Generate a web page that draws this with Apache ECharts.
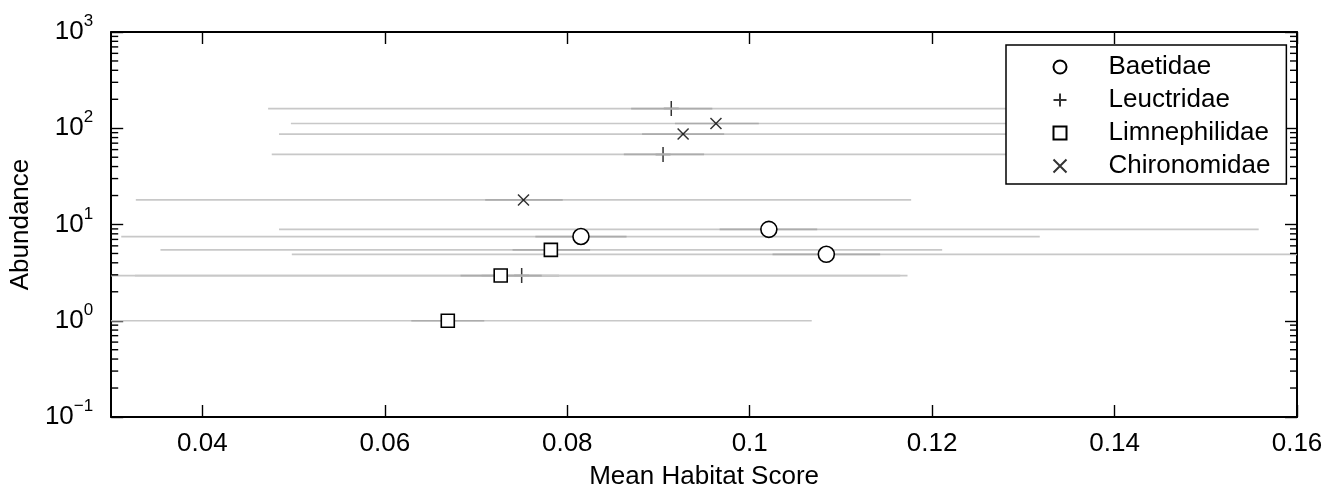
<!DOCTYPE html>
<html>
<head>
<meta charset="utf-8">
<script src="https://cdn.jsdelivr.net/npm/echarts@6/dist/echarts.min.js"></script>
<style>
html,body{margin:0;padding:0;background:#fff;}
#chart{width:1327px;height:495px;}
</style>
</head>
<body>
<div id="chart"></div>
<script>
// ---- data ----
const xTicks = [0.04, 0.06, 0.08, 0.10, 0.12, 0.14, 0.16];
const yMinorTicks = [0.2,0.3,0.4,0.5,0.6,0.7,0.8,0.9, 2,3,4,5,6,7,8,9, 20,30,40,50,60,70,80,90, 200,300,400,500,600,700,800,900];

const species = ['Baetidae', 'Leuctridae', 'Limnephilidae', 'Chironomidae'];

// Baetidae
const baetX = [0.1021, 0.0815, 0.1084];
const baetY = [8.9, 7.5, 4.9];
const baetLo = [0.0484, 0.0311, 0.0498];
const baetHi = [0.1558, 0.1318, 0.175];
const baetInLo = [0.0967, 0.0765, 0.1025];
const baetInHi = [0.1074, 0.0865, 0.1143];

// Leuctridae
const leucX = [0.0914, 0.0905, 0.0750];
const leucY = [160, 53.5, 2.95];
const leucLo = [0.0472, 0.0476, 0.0326];
const leucHi = [0.140, 0.140, 0.1173];
const leucInLo = [0.0870, 0.0862, 0.0706];
const leucInHi = [0.0959, 0.0950, 0.0791];

// Limnephilidae
const limnX = [0.0669, 0.0727, 0.0782];
const limnY = [1, 2.95, 5.45];
const limnLo = [0.028, 0.028, 0.0354];
const limnHi = [0.1068, 0.1165, 0.1211];
const limnInLo = [0.0629, 0.0683, 0.0740];
const limnInHi = [0.0709, 0.0772, 0.0825];

// Chironomidae
const chirX = [0.0963, 0.0927, 0.0752];
const chirY = [112, 87, 18];
const chirLo = [0.0497, 0.0484, 0.0327];
const chirHi = [0.145, 0.145, 0.1177];
const chirInLo = [0.0918, 0.0882, 0.0710];
const chirInHi = [0.1010, 0.0972, 0.0795];

// ---- chart ----
const FONT = "'Liberation Sans', Arial, Helvetica, sans-serif";
const chart = echarts.init(document.getElementById('chart'), null, {renderer: 'canvas'});

function errSeries(name, x, y, lo, hi, ilo, ihi) {
  return {
    name: name + ' range',
    type: 'custom',
    z: 2,
    silent: true,
    data: x.map((v, i) => [v, y[i], lo[i], hi[i], ilo[i], ihi[i]]),
    encode: {x: [0], y: [1]},
    renderItem: function (params, api) {
      const cs = params.coordSys;
      const clampX = (px) => Math.max(cs.x, Math.min(cs.x + cs.width, px));
      const yv = api.value(1);
      const a = api.coord([api.value(2), yv]);
      const b = api.coord([api.value(3), yv]);
      const c = api.coord([api.value(4), yv]);
      const d = api.coord([api.value(5), yv]);
      return {
        type: 'group',
        children: [
          {type: 'line', shape: {x1: clampX(a[0]), y1: a[1], x2: clampX(b[0]), y2: b[1]},
           style: {stroke: '#c8c8c8', lineWidth: 1.7}},
          {type: 'line', shape: {x1: clampX(c[0]), y1: c[1], x2: clampX(d[0]), y2: d[1]},
           style: {stroke: '#acacac', lineWidth: 1.7}}
        ]
      };
    }
  };
}

function pts(x, y) { return x.map((v, i) => [v, y[i]]); }

const PLUS = 'path://M5,0 L5,10 M0,5 L10,5';
const CROSS = 'path://M0,0 L10,10 M10,0 L0,10';

const markerStyle = {color: '#ffffff', borderColor: '#000000', borderWidth: 1.6, opacity: 1};

const option = {
  animation: false,
  backgroundColor: '#ffffff',
  textStyle: {fontFamily: FONT},
  grid: {left: 106, right: 30, top: 32, bottom: 71, containLabel: false},
  legend: {
    left: 1006, top: 45,
    orient: 'vertical',
    data: species,
    selectedMode: false,
    backgroundColor: '#ffffff',
    borderColor: '#000000',
    borderWidth: 1.5,
    borderRadius: 0,
    padding: [9, 16, 5, 45],
    itemWidth: 13,
    itemHeight: 13,
    itemGap: 7,
    formatter: function (n) { return '{t|' + n + '}'; },
    textStyle: {
      color: '#000', fontFamily: FONT, fontSize: 26,
      rich: {t: {fontSize: 26, lineHeight: 26, color: '#000', fontFamily: FONT, padding: [0, 0, 0, 37]}}
    }
  },
  xAxis: [{
    type: 'value', min: 0.03, max: 0.16, position: 'bottom',
    name: 'Mean Habitat Score', nameLocation: 'middle', nameGap: 47,
    nameTextStyle: {fontSize: 26, color: '#000', fontFamily: FONT},
    axisLine: {show: true, onZero: false, lineStyle: {color: '#000', width: 2}},
    axisTick: {show: true, inside: true, length: 12, customValues: xTicks, lineStyle: {color: '#000', width: 1.4}},
    axisLabel: {show: true, customValues: xTicks, margin: 14, fontSize: 26, color: '#000', fontFamily: FONT,
      formatter: function (v) { return String(+v.toFixed(2)); }},
    splitLine: {show: false}
  }, {
    type: 'value', min: 0.03, max: 0.16, position: 'top',
    axisLine: {show: true, onZero: false, lineStyle: {color: '#000', width: 2}},
    axisTick: {show: true, inside: true, length: 12, customValues: xTicks, lineStyle: {color: '#000', width: 1.4}},
    axisLabel: {show: false},
    splitLine: {show: false}
  }],
  yAxis: [{
    type: 'log', logBase: 10, min: 0.1, max: 1000, position: 'left',
    name: 'Abundance', nameLocation: 'middle', nameGap: 67,
    nameTextStyle: {fontSize: 26, color: '#000', fontFamily: FONT},
    axisLine: {show: true, onZero: false, lineStyle: {color: '#000', width: 2}},
    axisTick: {show: true, inside: true, length: 12, lineStyle: {color: '#000', width: 1.4}},
    axisLabel: {
      show: true, margin: 18, color: '#000', fontFamily: FONT,
      formatter: function (v) {
        const e = Math.round(Math.log10(v));
        return '{b|10}{s|' + (e < 0 ? '\u2212' + (-e) : e) + '}';
      },
      rich: {
        b: {fontSize: 26, lineHeight: 38, color: '#000', fontFamily: FONT},
        s: {fontSize: 17, lineHeight: 17, verticalAlign: 'top', color: '#000', fontFamily: FONT}
      }
    },
    splitLine: {show: false}
  }, {
    type: 'log', logBase: 10, min: 0.1, max: 1000, position: 'right',
    axisLine: {show: true, onZero: false, lineStyle: {color: '#000', width: 2}},
    axisTick: {show: true, inside: true, length: 12, lineStyle: {color: '#000', width: 1.4}},
    axisLabel: {show: false},
    splitLine: {show: false}
  }],
  series: [
    // minor ticks of the log axes
    {
      type: 'custom', name: 'minor ticks', silent: true, z: 5,
      data: yMinorTicks.map(v => [0.03, v]),
      encode: {x: [0], y: [1]},
      renderItem: function (params, api) {
        const cs = params.coordSys;
        const p = api.coord([0.03, api.value(1)]);
        return {
          type: 'group',
          children: [
            {type: 'line', shape: {x1: cs.x, y1: p[1], x2: cs.x + 7, y2: p[1]}, style: {stroke: '#000', lineWidth: 1.4}},
            {type: 'line', shape: {x1: cs.x + cs.width - 7, y1: p[1], x2: cs.x + cs.width, y2: p[1]}, style: {stroke: '#000', lineWidth: 1.4}}
          ]
        };
      }
    },
    errSeries('Baetidae', baetX, baetY, baetLo, baetHi, baetInLo, baetInHi),
    errSeries('Leuctridae', leucX, leucY, leucLo, leucHi, leucInLo, leucInHi),
    errSeries('Limnephilidae', limnX, limnY, limnLo, limnHi, limnInLo, limnInHi),
    errSeries('Chironomidae', chirX, chirY, chirLo, chirHi, chirInLo, chirInHi),
    {name: 'Baetidae', type: 'scatter', z: 3, symbol: 'circle', symbolSize: 16,
     itemStyle: markerStyle, data: pts(baetX, baetY)},
    {name: 'Leuctridae', type: 'scatter', z: 1, symbol: PLUS, symbolSize: 15,
     itemStyle: {color: 'none', borderColor: '#000', borderWidth: 1.5}, data: pts(leucX, leucY)},
    {name: 'Limnephilidae', type: 'scatter', z: 3, symbol: 'rect', symbolSize: 13,
     itemStyle: markerStyle, data: pts(limnX, limnY)},
    {name: 'Chironomidae', type: 'scatter', z: 3, symbol: CROSS, symbolSize: 11,
     itemStyle: {color: 'none', borderColor: '#000', borderWidth: 1.5}, data: pts(chirX, chirY)}
  ]
};
chart.setOption(option);
</script>
</body>
</html>
